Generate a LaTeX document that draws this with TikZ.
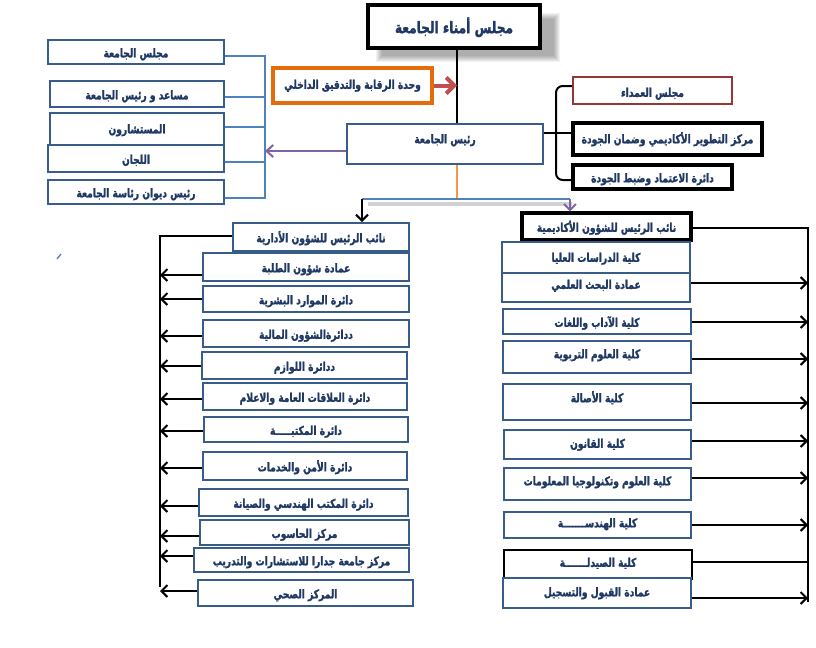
\documentclass[tikz,border=0pt]{standalone}
\usepackage{fontspec}
\newfontfamily\arabicfont[Script=Arabic,FakeStretch=0.76,BoldFeatures={FakeBold=1.5}]{DejaVu Sans}
\TeXXeTstate=1
\usetikzlibrary{arrows.meta,calc}
\definecolor{navy}{RGB}{56,93,138}
\definecolor{tcol}{RGB}{31,56,100}
\definecolor{bline}{RGB}{79,129,189}
\definecolor{orng}{RGB}{228,108,10}
\definecolor{redar}{RGB}{192,80,77}
\definecolor{purp}{RGB}{128,100,162}
\definecolor{lorng}{RGB}{247,150,70}
\definecolor{dred}{RGB}{149,55,53}
\newcommand\artxt[1]{\beginR #1\endR}
\begin{document}
\begin{tikzpicture}[x=0.75pt,y=-0.75pt,
  wh/.style 2 args={minimum width=#1*0.75pt, minimum height=#2*0.75pt},
  box/.style={draw=navy, line width=1.5pt, fill=white, inner sep=1pt,
    font=\arabicfont\bfseries\fontsize{9}{10}\selectfont, text=tcol,
    text height=10pt, text depth=2pt},
  up/.style={text depth={(2+1.5*#1)*1pt}},
  blkbox/.style={box, draw=black, line width=2.3pt},
  conn/.style={line width=1.5pt, black},
  arr/.style={conn, -{Straight Barb[length=4.5pt,width=9pt]}},
  bl/.style={line width=1.5pt, bline},
]
\useasboundingbox (0,0) rectangle (816,647);
\fill[white] (0,0) rectangle (816,647);

% shadow of top box
\foreach \i in {0,...,6} {\fill[black,opacity=0.05] (376+\i,13+\i) rectangle (560-\i,62-\i);}
\node[blkbox, wh={172}{43}, font=\arabicfont\bfseries\fontsize{12}{13}\selectfont, text height=12pt] (top) at (454,26.5) {\artxt{مجلس أمناء الجامعة}};

\node[box, draw=orng, line width=2.3pt, wh={159}{35}, up=2] (ctrl) at (352.5,85.5) {\artxt{وحدة الرقابة والتدقيق الداخلي}};
\node[box, wh={196}{40}, up=6] (pres) at (445,144) {\artxt{رئيس الجامعة}};

% left group
\node[box, wh={176}{24}] (g1) at (136,52) {\artxt{مجلس الجامعة}};
\node[box, wh={174}{26}] (g2) at (137,94) {\artxt{مساعد و رئيس الجامعة}};
\node[box, wh={174}{32}, up=1] (g3) at (137,129) {\artxt{المستشارون}};
\node[box, wh={176}{27}] (g4) at (136,158.5) {\artxt{اللجان}};
\node[box, wh={176}{24}] (g5) at (136,192) {\artxt{رئيس ديوان رئاسة الجامعة}};

% right group
\node[box, draw=dred, wh={159}{27}, text depth=0.5pt] (r1) at (652.5,90.5) {\artxt{مجلس العمداء}};
\node[blkbox, wh={189}{32}, up=1] (r2) at (667.5,139) {\artxt{مركز التطوير الأكاديمي وضمان الجودة}};
\node[blkbox, wh={159}{24}] (r3) at (652.5,177) {\artxt{دائرة الاعتماد وضبط الجودة}};

% vice presidents
\node[box, wh={176}{28}] (adm) at (321,237) {\artxt{نائب الرئيس للشؤون الأدارية}};
\node[blkbox, wh={169}{27}] (aca) at (606.5,226.5) {\artxt{نائب الرئيس للشؤون الأكاديمية}};

% left column
\node[box, wh={206}{28}] (L1) at (306,267) {\artxt{عمادة شؤون الطلبة}};
\node[box, wh={206}{26}] (L2) at (306,299) {\artxt{دائرة الموارد البشرية}};
\node[box, wh={206}{27}] (L3) at (306,333.5) {\artxt{ددائرةالشؤون المالية}};
\node[box, wh={205}{27}] (L4) at (304.5,365.5) {\artxt{ددائرة اللوازم}};
\node[box, wh={204}{27}] (L5) at (305,396.5) {\artxt{دائرة العلاقات العامة والاعلام}};
\node[box, wh={204}{25}] (L6) at (306,429.5) {\artxt{دائرة المكتبـــــة}};
\node[box, wh={204}{28}] (L7) at (305,466) {\artxt{دائرة الأمن والخدمات}};
\node[box, wh={209}{27}] (L8) at (303.5,502.5) {\artxt{دائرة المكتب الهندسي والصيانة}};
\node[box, wh={209}{25}] (L9) at (304.5,532.5) {\artxt{مركز الحاسوب}};
\node[box, wh={215}{24}] (L10) at (301.5,560) {\artxt{مركز جامعة جدارا للاستشارات والتدريب}};
\node[box, wh={215}{26}] (L11) at (305.5,593) {\artxt{المركز الصحي}};

% right column
\node[box, wh={188}{31}, up=1] (R1) at (596,257.5) {\artxt{كلية الدراسات العليا}};
\node[box, wh={188}{29}, up=4] (R2) at (596,287.5) {\artxt{عمادة البحث العلمي}};
\node[box, wh={188}{25}] (R3) at (597,321.5) {\artxt{كلية الآداب واللغات}};
\node[box, wh={188}{32}, up=4] (R4) at (597,357) {\artxt{كلية العلوم التربوية}};
\node[box, wh={188}{36}, up=5] (R5) at (597,402) {\artxt{كلية الأصالة}};
\node[box, wh={187}{29}, up=2] (R6) at (597.5,444.5) {\artxt{كلية القانون}};
\node[box, wh={187}{32}, up=4] (R7) at (597.5,484) {\artxt{كلية العلوم وتكنولوجيا المعلومات}};
\node[box, wh={187}{26}, up=3] (R8) at (597.5,525) {\artxt{كلية الهندســـــــة}};
\node[box, draw=black, wh={188}{29}, up=3] (R9) at (598,564.5) {\artxt{كلية الصيدلـــــــة}};
\node[box, wh={188}{30}, up=2] (R10) at (597,593) {\artxt{عمادة القبول والتسجيل}};

% coordinates
\coordinate (hub) at (457,199);
\coordinate (lbr) at (265,151);
\coordinate (rbr) at (556,133);
\coordinate (ladm) at (362,199);
\coordinate (racad) at (570,199);
\coordinate (lsp) at (160,236);
\coordinate (rsp) at (808,228);

% top connectors
\draw[conn] (top.south -| hub) -- (pres.north -| hub);
\draw[redar, line width=3pt, -{Straight Barb[length=6pt,width=12pt]}] (ctrl.east) -- (ctrl.east -| hub);
\draw[purp, line width=1.5pt, -{Straight Barb[length=5pt,width=9pt]}] (pres.west |- lbr) -- (lbr);

% left blue bracket
\draw[bl] (g1.east |- 0,56) -- (265,56) -- (265,198) -- (g5.east |- 0,198);
\draw[bl] (g2.east |- 0,97) -- (265,97);
\draw[bl] (g3.east |- 0,127) -- (265,127);
\draw[bl] (g4.east |- 0,162) -- (265,162);

% right black bracket
\draw[conn] (pres.east |- rbr) -- (rbr);
\draw[conn, rounded corners=5pt] (r1.west |- 0,86) -- (rbr |- 0,86) -- (rbr |- 0,180) -- (r3.west |- 0,180);
\draw[conn] (rbr) -- (r2.west |- rbr);

% split to vice presidents
\draw[black!18, line width=3pt] (368,204) -- (572,204);
\draw[lorng, line width=1.5pt] (pres.south -| hub) -- (hub);
\draw[bl] (ladm) -- (racad);
\draw[arr] (ladm) -- (ladm |- adm.north);
\draw[purp, line width=1.5pt, -{Straight Barb[length=4.5pt,width=9pt]}] (racad) -- (racad |- aca.north);

% left spine
\draw[conn] (adm.west |- lsp) -- (lsp) -- (160,587);
\draw[arr] (L1.west |- 0,275) -- (lsp |- 0,275);
\draw[arr] (L2.west |- 0,299) -- (lsp |- 0,299);
\draw[arr] (L3.west |- 0,336) -- (lsp |- 0,336);
\draw[arr] (L4.west |- 0,366) -- (lsp |- 0,366);
\draw[arr] (L5.west |- 0,399) -- (lsp |- 0,399);
\draw[arr] (L6.west |- 0,431) -- (lsp |- 0,431);
\draw[arr] (L7.west |- 0,468) -- (lsp |- 0,468);
\draw[arr] (L8.west |- 0,506) -- (lsp |- 0,506);
\draw[arr] (L9.west |- 0,536) -- (lsp |- 0,536);
\draw[arr] (L10.west |- 0,556) -- (lsp |- 0,556);
\draw[arr] (L11.west |- 0,591) -- (lsp |- 0,591);

% right spine
\draw[conn] (aca.east |- rsp) -- (rsp) -- (808,602);
\draw[arr] (R2.east |- 0,283) -- (rsp |- 0,283);
\draw[arr] (R3.east |- 0,322) -- (rsp |- 0,322);
\draw[arr] (R4.east |- 0,359) -- (rsp |- 0,359);
\draw[arr] (R5.east |- 0,403) -- (rsp |- 0,403);
\draw[arr] (R6.east |- 0,441) -- (rsp |- 0,441);
\draw[arr] (R7.east |- 0,478) -- (rsp |- 0,478);
\draw[arr] (R8.east |- 0,525) -- (rsp |- 0,525);
\draw[conn] (R9.east |- 0,562) -- (rsp |- 0,562);
\draw[arr] (R10.east |- 0,598) -- (rsp |- 0,598);

% stray mark
\draw[bline, line width=1pt] (57,259) -- (61,254);
\end{tikzpicture}
\end{document}
